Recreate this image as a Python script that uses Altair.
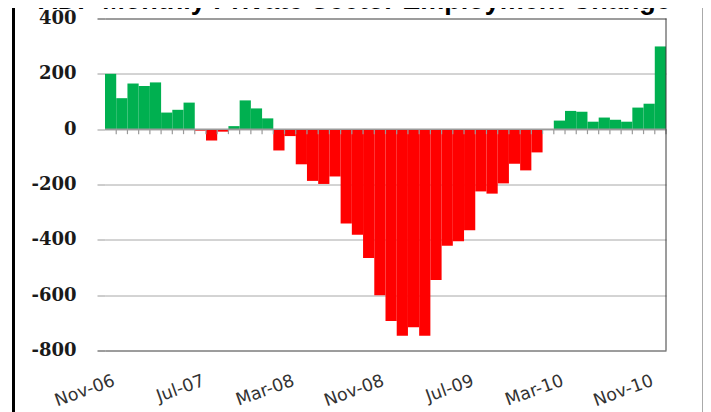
import altair as alt
import pandas as pd

# ---- data ----
months = [
    "Nov-06", "Dec-06", "Jan-07", "Feb-07", "Mar-07", "Apr-07", "May-07", "Jun-07",
    "Jul-07", "Aug-07", "Sep-07", "Oct-07", "Nov-07", "Dec-07", "Jan-08", "Feb-08",
    "Mar-08", "Apr-08", "May-08", "Jun-08", "Jul-08", "Aug-08", "Sep-08", "Oct-08",
    "Nov-08", "Dec-08", "Jan-09", "Feb-09", "Mar-09", "Apr-09", "May-09", "Jun-09",
    "Jul-09", "Aug-09", "Sep-09", "Oct-09", "Nov-09", "Dec-09", "Jan-10", "Feb-10",
    "Mar-10", "Apr-10", "May-10", "Jun-10", "Jul-10", "Aug-10", "Sep-10", "Oct-10",
    "Nov-10", "Dec-10",
]
values = [
    200, 112, 165, 156, 169, 60, 70, 96,
    -5, -41, -9, 11, 104, 75, 39, -77,
    -25, -127, -187, -198, -171, -341, -382, -466,
    -600, -693, -747, -716, -747, -545, -421, -405,
    -365, -225, -233, -196, -125, -149, -84, -3,
    31, 66, 63, 27, 42, 34, 27, 78,
    92, 299,
]
label_months = ["Nov-06", "Jul-07", "Mar-08", "Nov-08", "Jul-09", "Mar-10", "Nov-10"]
y_ticks = [400, 200, 0, -200, -400, -600, -800]
title_text = "ADP Monthly Private Sector Employment Change"

W, H = 561, 332

df = pd.DataFrame({
    "month": months,
    "start": list(range(len(months))),
    "value": values,
})
df["end"] = df["start"] + 1
df["sign"] = ["pos" if v >= 0 else "neg" for v in values]

label_pos = [months.index(m) + 0.5 for m in label_months]
label_expr = "[" + ",".join("'%s'" % m for m in label_months) + "][floor(datum.value / 8)]"

x_scale = alt.Scale(domain=[0, len(months)], nice=False, zero=False)
y_scale = alt.Scale(domain=[-800, 400], nice=False)

edge_test = "datum.value === 400 || datum.value === -800"

bars = alt.Chart(df).mark_bar(strokeWidth=0).encode(
    x=alt.X("start:Q", scale=x_scale, title=None,
            axis=alt.Axis(values=label_pos, labelExpr=label_expr, labelAngle=-20,
                          labelAlign="right", labelBaseline="top", labelPadding=21,
                          ticks=False, domain=False, grid=False,
                          labelFont="DejaVu Sans", labelFontSize=17.5,
                          labelColor="#333333", labelOverlap=False)),
    x2="end:Q",
    y=alt.Y("value:Q", scale=y_scale, title=None,
            axis=alt.Axis(values=y_ticks, domain=False, tickSize=8,
                          labelExpr="datum.value < 0 ? '-' + abs(datum.value) : '' + datum.value",
                          tickColor={"condition": {"test": edge_test, "value": "#3a3a3a"}, "value": "#9a9a9a"},
                          gridColor={"condition": {"test": edge_test, "value": "#3a3a3a"}, "value": "#a8a8a8"},
                          grid=True, labelPadding=21,
                          labelFont="DejaVu Serif", labelFontWeight="bold",
                          labelFontSize=18, labelColor="#1a1a1a")),
    y2=alt.datum(0),
    color=alt.Color("sign:N", legend=None,
                    scale=alt.Scale(domain=["pos", "neg"], range=["#00B050", "#FF0000"])),
)

zero_line = alt.Chart(pd.DataFrame({"z": [0]})).mark_rule(color="#9a9a9a", strokeWidth=1.5).encode(
    y=alt.datum(0),
)

ticks_df = pd.DataFrame({"b": list(range(1, len(months) + 1))})
x_ticks = alt.Chart(ticks_df).mark_rule(color="#9a9a9a", strokeWidth=1.2).encode(
    x=alt.X("b:Q", title=None),
    y=alt.datum(0),
    y2=alt.datum(-18),
)

one = pd.DataFrame({"r": [0]})
right_border = alt.Chart(one).mark_rule(color="#3a3a3a", strokeWidth=1).encode(
    x=alt.value(W), y=alt.value(0), y2=alt.value(H),
)
frame_left = alt.Chart(one).mark_rule(color="black", strokeWidth=3).encode(
    x=alt.value(-91.5), y=alt.value(-12), y2=alt.value(420),
)
frame_right = alt.Chart(one).mark_rule(color="black", strokeWidth=3.5).encode(
    x=alt.value(602), y=alt.value(-12), y2=alt.value(420),
)
frame_right_thin = alt.Chart(one).mark_rule(color="#555555", strokeWidth=1).encode(
    x=alt.value(598), y=alt.value(-11.5), y2=alt.value(420),
)

chart = alt.layer(
    bars, zero_line, x_ticks, right_border, frame_left, frame_right_thin, frame_right
).properties(
    width=W, height=H,
    background="white",
    title=alt.TitleParams(title_text, font="Liberation Sans", fontSize=27, fontWeight="bold",
                          color="black", anchor="middle", offset=-10.5, dx=-31),
    padding={"left": 97, "top": 10.5, "right": 37, "bottom": 61},
    autosize=alt.AutoSizeParams(type="none"),
).configure_view(stroke=None)

chart.save("out.html", embed_options={"renderer": "svg", "actions": False})
